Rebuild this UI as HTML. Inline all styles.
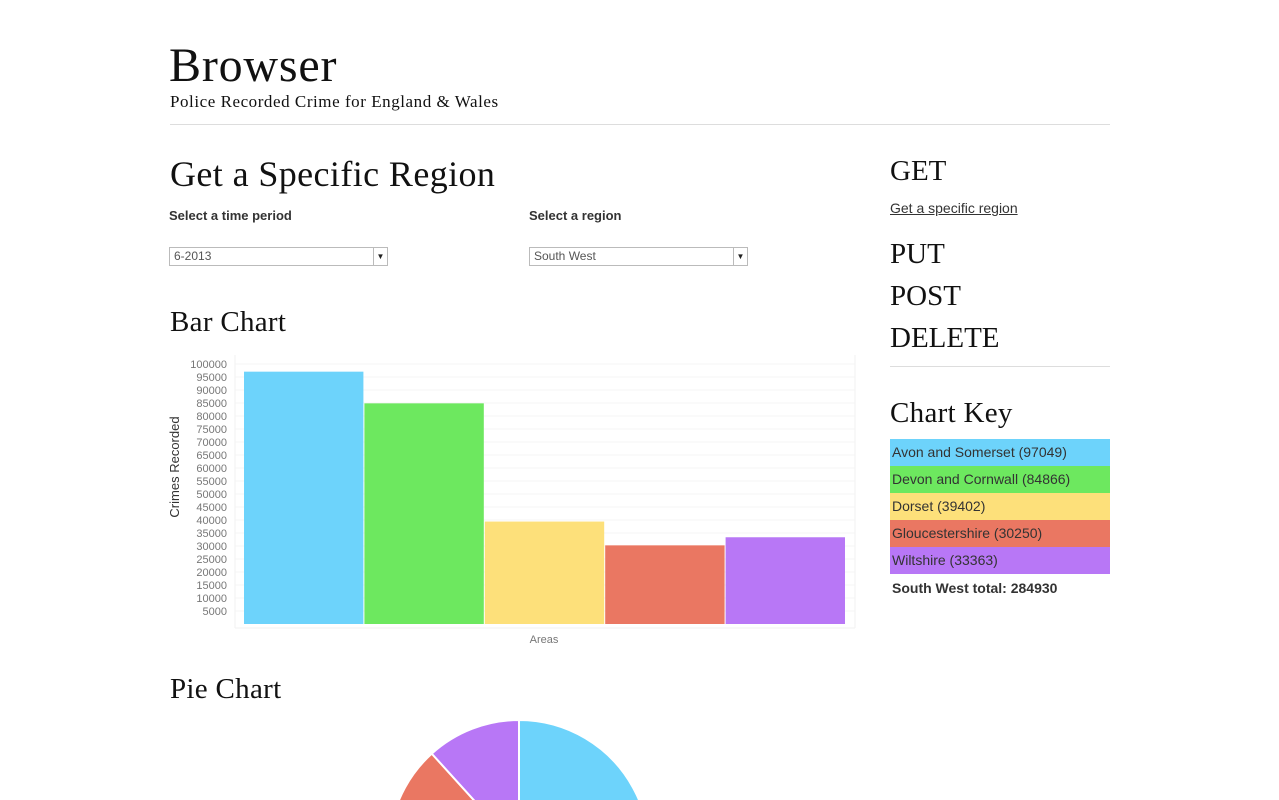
<!DOCTYPE html>
<html style="overflow:hidden"><head><meta charset="utf-8">
<style>
body{margin:0;background:#fff;width:1279px;height:800px;overflow:hidden;position:relative;font-family:"Liberation Sans",sans-serif;color:#222}
.serif{font-family:"Liberation Serif",serif;position:absolute;margin:0;font-weight:normal;color:#111}
.abs{position:absolute}
.lbl{position:absolute;font-size:13px;font-weight:bold;color:#333}
.sel{position:absolute;font-size:12px;color:#555;line-height:17px;padding-left:4px;box-sizing:border-box;width:219px;height:19px;border:1px solid #bbb}
.sel .arr{position:absolute;right:0;top:0;width:13px;height:17px;border-left:1px solid #bbb;font-size:8px;text-align:center;color:#222}
.key{position:absolute;left:890px;width:220px;height:27px;font-size:14px;line-height:27px;padding-left:2px;box-sizing:border-box;color:#333}
</style></head><body>
<h1 class="serif" style="left:169px;top:38px;font-size:48px;letter-spacing:0.8px">Browser</h1>
<div class="serif" style="left:170px;top:92px;font-size:17px;letter-spacing:0.55px">Police Recorded Crime for England &amp; Wales</div>
<div class="abs" style="left:170px;top:124px;width:940px;height:1px;background:#ddd"></div>
<h2 class="serif" style="left:170px;top:153px;font-size:36px;letter-spacing:0.4px">Get a Specific Region</h2>
<div class="lbl" style="left:169px;top:208px">Select a time period</div>
<div class="lbl" style="left:529px;top:208px">Select a region</div>
<div class="sel" style="left:169px;top:247px">6-2013<div class="arr">▼</div></div>
<div class="sel" style="left:529px;top:247px">South West<div class="arr">▼</div></div>
<h3 class="serif" style="left:170px;top:306px;font-size:29px;letter-spacing:0.3px">Bar Chart</h3>
<svg class="abs" id="bar" style="left:0;top:0" width="900" height="660"></svg>
<h3 class="serif" style="left:170px;top:673px;font-size:29px;letter-spacing:0.3px">Pie Chart</h3>
<svg class="abs" id="pie" style="left:0;top:0;overflow:hidden" width="900" height="800"></svg>
<div class="serif" style="left:890px;top:155px;font-size:29px">GET</div>
<div class="abs" style="left:890px;top:200px;font-size:14px;text-decoration:underline;color:#333">Get a specific region</div>
<div class="serif" style="left:890px;top:238px;font-size:29px">PUT</div>
<div class="serif" style="left:890px;top:280px;font-size:29px">POST</div>
<div class="serif" style="left:890px;top:322px;font-size:29px">DELETE</div>
<div class="abs" style="left:890px;top:366px;width:220px;height:1px;background:#ddd"></div>
<div class="serif" style="left:890px;top:397px;font-size:29px;letter-spacing:0.3px">Chart Key</div>
<div id="keys"></div>
<div class="abs" style="left:892px;top:580px;font-size:14px;font-weight:bold;color:#333">South West total: 284930</div>
<script>
const areas=["Avon and Somerset","Devon and Cornwall","Dorset","Gloucestershire","Wiltshire"];
const crimes=[97049,84866,39402,30250,33363];
const colors=["#6dd3fb","#6de85f","#fde07a","#ea7762","#b877f6"];
const yTicks=[5000,10000,15000,20000,25000,30000,35000,40000,45000,50000,55000,60000,65000,70000,75000,80000,85000,90000,95000,100000];
const NS="http://www.w3.org/2000/svg";
function mk(p,t,a){const e=document.createElementNS(NS,t);for(const k in a)e.setAttribute(k,a[k]);p.appendChild(e);return e;}
const bar=document.getElementById('bar');
const y0=624,yk=13/5000,xL=244,xR=846;
const y=v=>y0-v*yk;
const bw=(xR-xL)/crimes.length;
yTicks.forEach(t=>{
 const l=mk(bar,'line',{x1:235,x2:855,y1:y(t),y2:y(t),stroke:'#f5f5f5'});
 
 
 const tx=mk(bar,'text',{x:227,y:y(t)+4,'text-anchor':'end','font-size':11,fill:'#777'});tx.textContent=t;
 
 
});
mk(bar,'line',{x1:235,x2:235,y1:355,y2:628,stroke:'#f2f2f2'});
mk(bar,'line',{x1:855,x2:855,y1:355,y2:628,stroke:'#f2f2f2'});
mk(bar,'line',{x1:235,x2:855,y1:628,y2:628,stroke:'#f2f2f2'});
crimes.forEach((v,i)=>{
 const r=mk(bar,'rect',{x:xL+i*bw,y:y(v),width:bw-1,height:y0-y(v),fill:colors[i]});
 
 
});
const yt=mk(bar,'text',{transform:'translate(179,467) rotate(-90)','text-anchor':'middle','font-size':13,fill:'#333'});yt.textContent='Crimes Recorded';


const xt=mk(bar,'text',{x:544,y:643,'text-anchor':'middle','font-size':11,fill:'#777'});xt.textContent='Areas';


const pie=document.getElementById('pie');
const cx=519,cy=850,R=130,tot=crimes.reduce((a,b)=>a+b,0);
let a0=0;
crimes.forEach((v,i)=>{
 const a1=a0+v/tot*2*Math.PI;
 const p=(a)=>[cx+R*Math.sin(a),cy-R*Math.cos(a)];
 const [x0,yy0]=p(a0),[x1,yy1]=p(a1);
 const s=mk(pie,'path',{d:`M${cx},${cy}L${x0},${yy0}A${R},${R} 0 ${a1-a0>Math.PI?1:0} 1 ${x1},${yy1}Z`,fill:colors[i],stroke:'#fff','stroke-width':2});
 
 
 a0=a1;
});
const keys=document.getElementById('keys');
crimes.forEach((v,i)=>{
 const d=document.createElement('div');d.className='key';d.style.top=(439+i*27)+'px';d.style.background=colors[i];
 d.textContent=areas[i]+' ('+v+')';
 
 
 keys.appendChild(d);
});
</script>
</body></html>
